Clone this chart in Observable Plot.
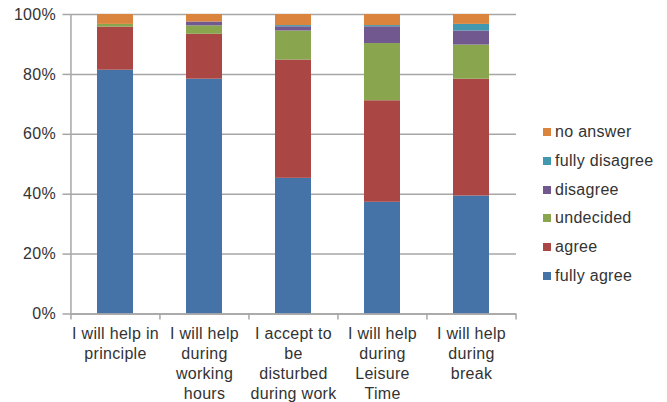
<!DOCTYPE html>
<html>
<head>
<meta charset="utf-8">
<script src="https://cdn.jsdelivr.net/npm/d3@7"></script>
<script src="https://cdn.jsdelivr.net/npm/@observablehq/plot@0.6"></script>
<style>
  html, body { margin: 0; padding: 0; background: #fff; }
  #chart { position: relative; width: 667px; height: 402px; font-family: "Liberation Sans", Arial, sans-serif; color: #333; }
  #legend { position: absolute; left: 543px; top: 118px; font-size: 16px; letter-spacing: 0.3px; }
  #legend .item { display: flex; align-items: center; height: 28.7px; }
  #legend .sw { width: 8px; height: 8px; margin-right: 4px; }
</style>
</head>
<body>
<div id="chart"><div id="legend"></div></div>
<script>
// Survey statements (x categories) and their wrapped tick labels
const categories = ["principle", "working hours", "disturbed", "leisure", "break"];
const tickLabels = [
  "I will help in\nprinciple",
  "I will help\nduring\nworking\nhours",
  "I accept to\nbe\ndisturbed\nduring work",
  "I will help\nduring\nLeisure\nTime",
  "I will help\nduring\nbreak"
];

// Response categories, bottom to top of each stack
const responses = ["fully agree", "agree", "undecided", "disagree", "fully disagree", "no answer"];
const colors = ["#4572A7", "#AA4643", "#89A54E", "#71588F", "#4198AF", "#DB843D"];

// Share of answers per statement (percent)
const fullyAgree    = [81.4, 78.4, 45.3, 37.3, 39.4];
const agree         = [14.4, 15.0, 39.5, 33.9, 39.0];
const undecided     = [0.9, 2.8, 9.7, 19.1, 11.4];
const disagree      = [0.0, 1.3, 1.4, 5.6, 4.7];
const fullyDisagree = [0.0, 0.0, 0.4, 0.4, 2.2];
const noAnswer      = [3.3, 2.5, 3.7, 3.7, 3.3];

const yTicks = [0, 20, 40, 60, 80, 100];

const series = [fullyAgree, agree, undecided, disagree, fullyDisagree, noAnswer];
const rows = [];
responses.forEach((r, i) => {
  categories.forEach((c, j) => rows.push({category: c, response: r, value: series[i][j]}));
});

const width = 667, height = 402;
const marginLeft = 70.5, marginRight = 151, marginTop = 14, marginBottom = 88.5;
const step = (width - marginLeft - marginRight) / categories.length;
const grey = "#a6a6a6";

const plot = Plot.plot({
  width, height, marginLeft, marginRight, marginTop, marginBottom,
  style: {fontFamily: "Liberation Sans, Arial, sans-serif", fontSize: "16px", color: "#333", letterSpacing: "0.3px", background: "#fff"},
  x: {domain: categories, paddingInner: 0.6, paddingOuter: 0.3, axis: null},
  y: {domain: [0, 100], axis: null},
  color: {domain: responses, range: colors},
  marks: [
    Plot.gridY(yTicks, {stroke: grey, strokeOpacity: 1, strokeWidth: 1.5}),
    Plot.axisY(yTicks, {tickSize: 8, tickPadding: 7, stroke: grey, strokeOpacity: 1, strokeWidth: 1.5, fill: "#333", tickFormat: d => d + "%", label: null}),
    Plot.barY(rows, Plot.stackY({x: "category", y: "value", fill: "response", order: responses})),
    // vertical axis line
    Plot.ruleX([categories[0]], {dx: -step / 2, y1: 0, y2: 100, stroke: grey, strokeWidth: 1.5}),
    // baseline
    Plot.ruleY([0], {stroke: grey, strokeWidth: 1.5}),
    // category boundary ticks
    Plot.ruleX(categories, {dx: -step / 2, y1: 0, y2: -2, stroke: grey, strokeWidth: 1.5}),
    Plot.ruleX([categories[categories.length - 1]], {dx: step / 2, y1: 0, y2: -2, stroke: grey, strokeWidth: 1.5}),
    Plot.axisX({tickSize: 0, tickPadding: 11, lineHeight: 1.25, fill: "#333", label: null,
      tickFormat: d => tickLabels[categories.indexOf(d)]})
  ]
});
document.getElementById("chart").prepend(plot);

// Legend, top entry is the top of the stack
const legend = d3.select("#legend");
responses.slice().reverse().forEach(r => {
  const item = legend.append("div").attr("class", "item");
  item.append("div").attr("class", "sw").style("background", colors[responses.indexOf(r)]);
  item.append("span").text(r);
});
</script>
</body>
</html>
